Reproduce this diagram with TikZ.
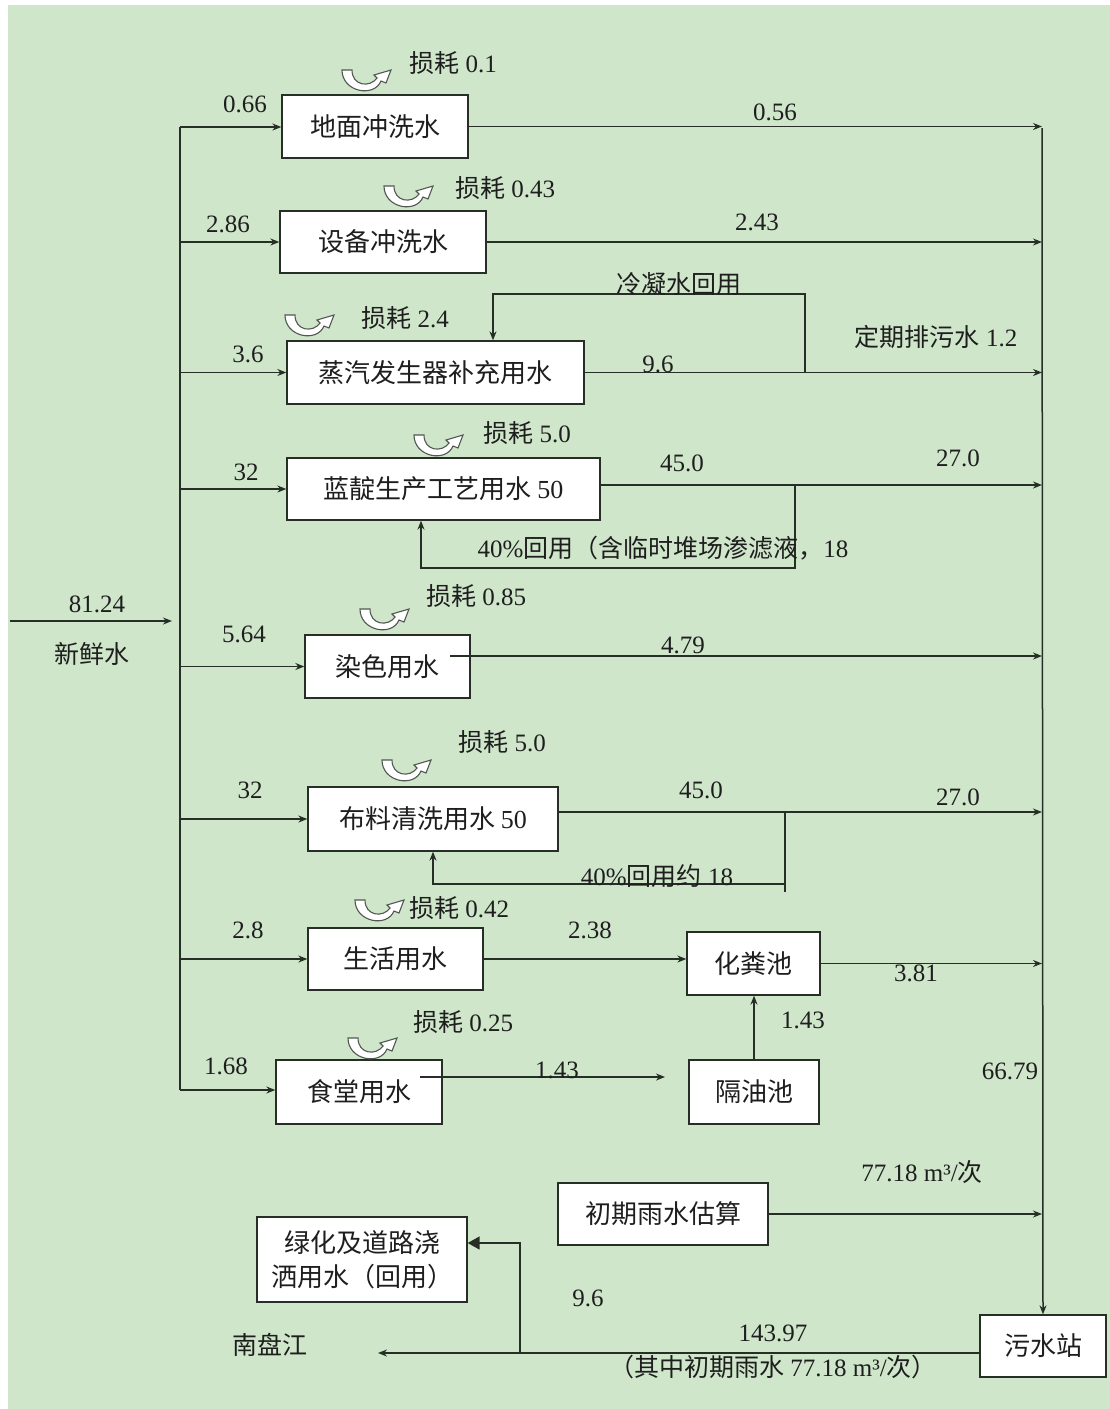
\documentclass[tikz,border=0pt]{standalone}
\usepackage{fontspec}
\setmainfont{Liberation Serif}
\newfontfamily\cjk{Noto Sans CJK SC}
\usetikzlibrary{arrows.meta}
\definecolor{bg}{RGB}{207,230,203}
\definecolor{ln}{RGB}{38,46,38}
\definecolor{tx}{RGB}{30,30,30}
\tikzset{
  box/.style={draw=ln, fill=white, line width=1.3pt, inner sep=0pt, text=tx,
              font=\fontsize{26}{30}\selectfont\cjk},
  lab/.style={inner sep=0pt, text=tx, font=\fontsize{25}{28}\selectfont},
  conn/.style={draw=ln, line width=1.5pt},
  arr/.style={conn, -{Stealth[length=9pt,width=7pt]}},
  bigarr/.style={conn, -{Triangle[length=12pt,width=13pt]}},
  loss/.pic={\filldraw[fill=white, draw=ln!80, line width=1.1pt]
    (-26,-12) .. controls (-26,10) and (6,16) .. (13,-1) -- (18,1) -- (23,-12)
    -- (6,-7) -- (9,-4) .. controls (2,6) and (-16,4) .. (-16,-12) -- cycle;}
}
\begin{document}
\begin{tikzpicture}[x=1pt,y=-1pt]
\useasboundingbox (0,0) rectangle (1110,1409);
\fill[bg] (8,5) rectangle (1110,1409);

% boxes
\node[box, minimum width=186pt, minimum height=63pt] (b1) at (375,126.5) {地面冲洗水};
\node[box, minimum width=206pt, minimum height=62pt] (b2) at (383,242) {设备冲洗水};
\node[box, minimum width=297pt, minimum height=63pt] (b3) at (435.5,372.5) {蒸汽发生器补充用水};
\node[box, minimum width=313pt, minimum height=62pt] (b4) at (443.5,489) {蓝靛生产工艺用水 {\rmfamily 50}};
\node[box, minimum width=165pt, minimum height=63pt] (b5) at (387.5,666.5) {染色用水};
\node[box, minimum width=250pt, minimum height=64pt] (b6) at (433,819) {布料清洗用水 {\rmfamily 50}};
\node[box, minimum width=175pt, minimum height=62pt] (b7) at (395.5,959) {生活用水};
\node[box, minimum width=133pt, minimum height=63pt] (b8) at (753.5,963.5) {化粪池};
\node[box, minimum width=166pt, minimum height=64pt] (b9) at (359,1092) {食堂用水};
\node[box, minimum width=130pt, minimum height=64pt] (b10) at (754,1092) {隔油池};
\node[box, minimum width=210pt, minimum height=62pt] (b12) at (663,1214) {初期雨水估算};
\node[box, minimum width=126pt, minimum height=62pt] (b13) at (1043,1346) {污水站};
\node[box, minimum width=210pt, minimum height=85pt, align=center,
      font=\fontsize{26}{34}\selectfont\cjk] (b16) at (362,1259.5) {绿化及道路浇\\洒用水（回用）};

% loss icons
\pic at (368,82) {loss};
\pic at (410,198) {loss};
\pic at (311,327) {loss};
\pic at (440,447) {loss};
\pic at (386,621) {loss};
\pic at (408,772) {loss};
\pic at (381,912) {loss};
\pic at (374,1050) {loss};

% fresh water inlet and distribution line
\coordinate (w0) at (10,621);
\coordinate (vtop) at (180,127);
\coordinate (vbot) at (180,1090);
\coordinate (vin) at (172,621);
\draw[arr] (w0) -- (vin);
\draw[conn] (vtop) -- (vbot);
\draw[arr] (vtop) -- (vtop -| b1.west);
\draw[arr] (vtop |- b2.west) -- (b2.west);
\draw[arr] (vtop |- b3.west) -- (b3.west);
\draw[arr] (vtop |- b4.west) -- (b4.west);
\draw[arr] (vtop |- b5.west) -- (b5.west);
\draw[arr] (vtop |- b6.west) -- (b6.west);
\draw[arr] (vtop |- b7.west) -- (b7.west);
\draw[arr] (vbot) -- (vbot -| b9.west);

% collection line on the right
\coordinate (rx) at (1042,128);
\draw[arr] (rx) -- (b13.north);
\draw[arr] (b1.east) -- (b1.east -| rx);
\draw[arr] (b2.east) -- (b2.east -| rx);
\draw[arr] (b3.east) -- (b3.east -| rx);
\coordinate (o4) at (600,485);
\draw[arr] (o4) -- (o4 -| rx);
\coordinate (o5) at (450,656);
\draw[arr] (o5) -- (o5 -| rx);
\coordinate (o6) at (558,812);
\draw[arr] (o6) -- (o6 -| rx);
\draw[arr] (b8.east) -- (b8.east -| rx);
\draw[arr] (b12.east) -- (b12.east -| rx);

% recycle loops
\coordinate (r3) at (805,373);
\coordinate (c3) at (493,294);
\draw[arr] (r3) |- (c3) -- (c3 |- b3.north);
\coordinate (r4) at (795,485);
\coordinate (c4) at (421,568);
\draw[arr] (r4) |- (c4) -- (c4 |- b4.south);
\coordinate (r6) at (785,812);
\coordinate (r6b) at (785,892);
\coordinate (c6a) at (785,884);
\coordinate (c6) at (433,884);
\draw[conn] (r6) -- (r6b);
\draw[arr] (c6a) -- (c6) -- (c6 |- b6.south);

% domestic / canteen
\draw[arr] (b7.east) -- (b7.east -| b8.west);
\coordinate (s9) at (420,1077);
\coordinate (e9) at (665,1077);
\draw[arr] (s9) -- (e9);
\draw[arr] (b10.north) -- (b10.north |- b8.south);

% outlet
\coordinate (nan) at (378,1353);
\draw[arr] (b13.west |- nan) -- (nan);
\coordinate (br) at (520,1353);
\coordinate (bt) at (520,1243);
\draw[bigarr] (br) -- (bt) -- (bt -| b16.east);

% labels
\node[lab] (t1) at (97,604) {81.24};
\node[lab] (t2) at (92,654) {\cjk 新鲜水};
\node[lab] (t3) at (245,104) {0.66};
\node[lab] (t4) at (453,63) {{\cjk 损耗} 0.1};
\node[lab] (t5) at (775,112) {0.56};
\node[lab] (t6) at (228,224) {2.86};
\node[lab] (t7) at (505,188) {{\cjk 损耗} 0.43};
\node[lab] (t8) at (757,222) {2.43};
\node[lab] (t9) at (679,284) {\cjk 冷凝水回用};
\node[lab] (t10) at (405,318) {{\cjk 损耗} 2.4};
\node[lab] (t11) at (248,354) {3.6};
\node[lab] (t12) at (658,364) {9.6};
\node[lab] (t13) at (936,337) {{\cjk 定期排污水} 1.2};
\node[lab] (t14) at (527,433) {{\cjk 损耗} 5.0};
\node[lab] (t15) at (246,472) {32};
\node[lab] (t16) at (682,463) {45.0};
\node[lab] (t17) at (958,458) {27.0};
\node[lab] (t18) at (663,548) {40\%{\cjk 回用（含临时堆场渗滤液，}18};
\node[lab] (t19) at (476,596) {{\cjk 损耗} 0.85};
\node[lab] (t20) at (244,634) {5.64};
\node[lab] (t21) at (683,645) {4.79};
\node[lab] (t22) at (502,742) {{\cjk 损耗} 5.0};
\node[lab] (t23) at (250,790) {32};
\node[lab] (t24) at (701,790) {45.0};
\node[lab] (t25) at (958,797) {27.0};
\node[lab] (t26) at (657,876) {40\%{\cjk 回用约} 18};
\node[lab] (t27) at (459,908) {{\cjk 损耗} 0.42};
\node[lab] (t28) at (248,930) {2.8};
\node[lab] (t29) at (590,930) {2.38};
\node[lab] (t30) at (916,973) {3.81};
\node[lab] (t31) at (463,1022) {{\cjk 损耗} 0.25};
\node[lab] (t32) at (803,1020) {1.43};
\node[lab] (t33) at (226,1066) {1.68};
\node[lab] (t34) at (557,1070) {1.43};
\node[lab] (t35) at (1010,1071) {66.79};
\node[lab] (t36) at (922,1172) {77.18 m³/{\cjk 次}};
\node[lab] (t37) at (588,1298) {9.6};
\node[lab] (t38) at (773,1333) {143.97};
\node[lab] (t39) at (773,1367) {{\cjk （其中初期雨水} 77.18 m³/{\cjk 次）}};
\node[lab] (t40) at (270,1345) {\cjk 南盘江};
\end{tikzpicture}
\end{document}
